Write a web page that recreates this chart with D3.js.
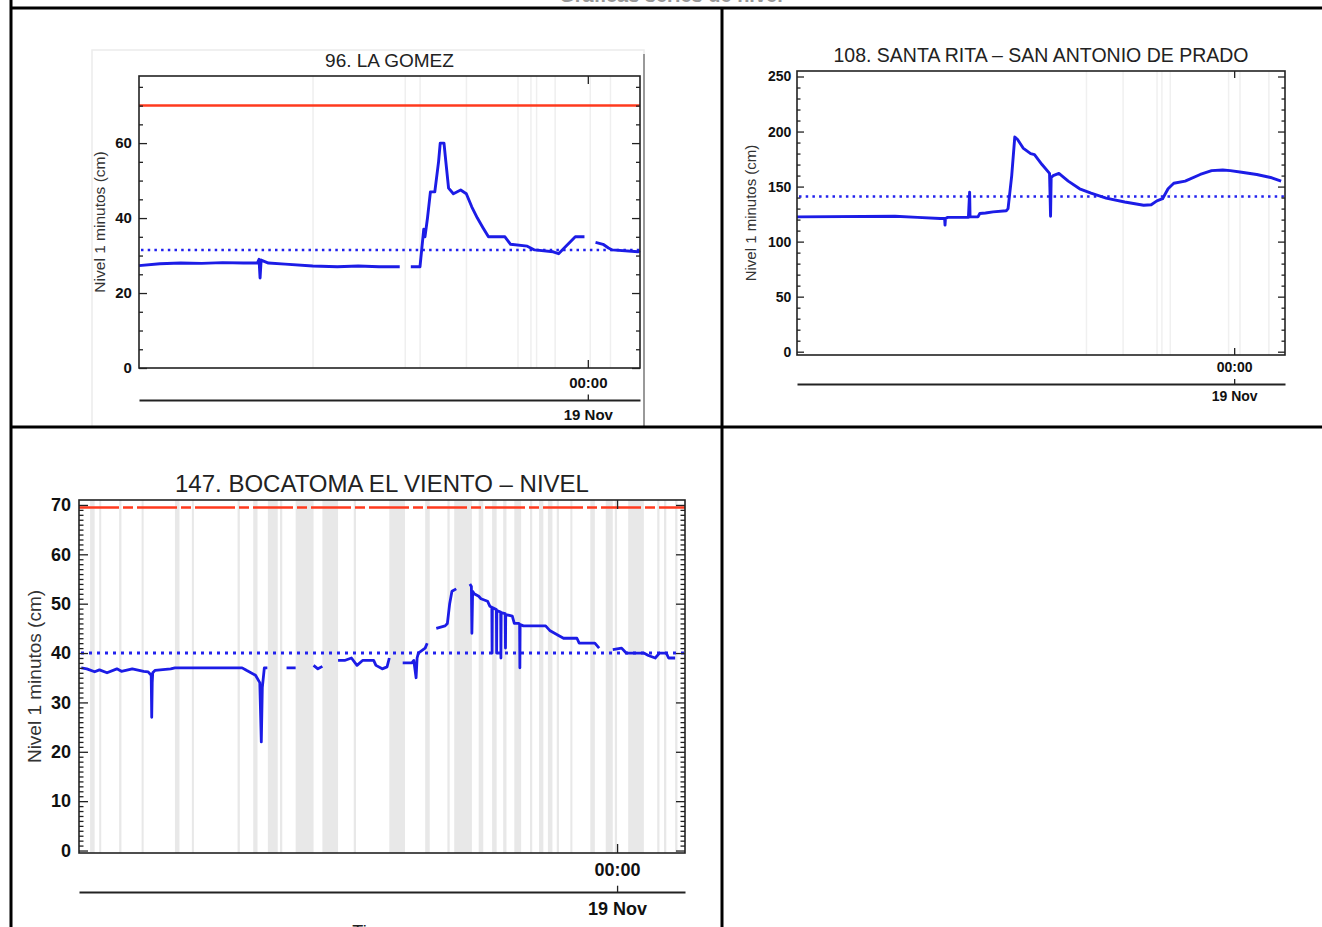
<!DOCTYPE html>
<html>
<head>
<meta charset="utf-8">
<script src="https://cdn.jsdelivr.net/npm/d3@7"></script>
<style>
body { margin: 0; background: #fff; }
svg { display: block; font-family: "Liberation Sans", Arial, sans-serif; }
</style>
</head>
<body>
<svg width="1322" height="927"></svg>
<script>
// time is in hours relative to 19 Nov 00:00
let midnight = Date.UTC(2019, 10, 19);
let T = h => new Date(midnight + h * 3600e3);

// 96. LA GOMEZ
let gomezTime = [-21.5, -20.5, -19.5, -18.5, -17.5, -16.5, -15.83, -15.75, -15.7, -15.65, -15.3, -14.5, -13.18, -12.0, -11.0, -10.0, -9.01, -9.0,
    -8.48, -8.04, -7.95, -7.86, -7.8, -7.68, -7.54, -7.33, -7.15, -7.07, -6.89, -6.8, -6.67, -6.44, -6.09, -5.82, -5.56, -5.29, -5.03,
    -4.76, -3.97, -3.7, -2.9, -2.55, -1.66, -1.4, -1.13, -0.87, -0.6, -0.16, -0.1, 0.37, 0.73, 0.99, 1.17, 2.41, 2.5];
let gomezLevel = [27.3, 27.8, 28.0, 27.9, 28.1, 28.0, 28.0, 29.0, 24.0, 28.8, 28.0, 27.7, 27.2, 27.0, 27.2, 27.0, 27.0, null,
    27.0, 27.0, 32, 37, 35, 40, 47, 47, 55, 60, 60, 55, 48, 46.5, 47.5, 46.5, 43, 40, 37.5,
    35, 35, 33, 32.5, 31.5, 31, 30.5, 32, 33.5, 35, 35, null, 33.5, 33, 32, 31.5, 31, 31.3];
let gomezGaps = [[-13.2, -13.14], [-8.78, -8.72], [-8.07, -8.01], [-5.85, -5.79], [-3.38, -3.32], [-2.76, -2.7], [-2.49, -2.43], [-1.6, -1.54], [0.08, 0.14], [1.05, 1.11]];

// 108. SANTA RITA - SAN ANTONIO DE PRADO
let ritaTime = [-21.5, -16.68, -15.57, -14.46, -14.24, -14.22, -14.2, -14.09, -13.07, -13.01, -12.99, -12.97, -12.6, -12.51, -12.23, -11.86,
    -11.21, -11.12, -10.94, -10.79, -10.66, -10.38, -10.01, -9.82, -9.45, -9.08, -9.03, -9.0, -8.9, -8.62, -8.16, -7.6, -7.04,
    -6.3, -5.38, -4.45, -4.08, -3.8, -3.52, -3.25, -2.97, -2.41, -1.67, -1.11, -0.56, -0.19, 0.37, 1.11, 1.85, 2.31];
let ritaLevel = [122.5, 123, 122, 121, 121, 115, 121, 122, 122, 145, 123, 122.5, 122.5, 125.5, 126, 127,
    128, 130, 160, 195, 193, 185, 180, 179, 170, 162, 123, 158, 160, 162, 155, 148, 144,
    139.5, 136, 133, 133.5, 137, 139, 148, 153, 155, 161, 164.5, 165, 164.5, 163, 161, 158, 155];
let ritaGaps = [[-7.3, -7.24], [-5.5, -5.44], [-3.83, -3.77], [-3.59, -3.53], [-3.18, -3.12], [-0.31, -0.25], [0.25, 0.31], [1.67, 1.73]];

// 147. BOCATOMA EL VIENTO - NIVEL
let vientoTime = [-21.22, -21.0, -20.69, -20.5, -20.2, -19.81, -19.63, -19.2, -18.75, -18.57, -18.45, -18.43, -18.41, -18.39, -18.3, -17.68, -17.51,
    -14.85, -14.68, -14.32, -14.15, -14.09, -14.05, -13.97, -13.85, -13.8, -13.09, -12.73, -12.7, -12.02, -11.85, -11.67, -11.6,
    -11.05, -10.79, -10.52, -10.3, -10.08, -9.9, -9.64, -9.55, -9.3, -9.11, -9.02, -8.9, -8.49, -8.13, -8.05, -7.96, -7.92, -7.87,
    -7.6, -7.52, -7.45, -7.16, -6.81, -6.72, -6.63, -6.54, -6.37, -6.3, -5.83, -5.77, -5.75, -5.72, -5.66, -5.48, -5.39, -5.13,
    -5.04, -4.96, -4.95, -4.94, -4.78, -4.77, -4.76, -4.61, -4.6, -4.59, -4.43, -4.42, -4.41, -4.15, -4.07, -3.89, -3.86, -3.85,
    -3.84, -3.71, -2.83, -2.65, -2.3, -2.12, -1.59, -1.5, -0.88, -0.71, -0.6, -0.17, 0.18, 0.36, 1.06, 1.24, 1.51, 1.68, 1.95,
    2.04, 2.3];
let vientoLevel = [37, 36.8, 36.2, 36.6, 36.0, 36.8, 36.3, 36.8, 36.3, 36.2, 35.5, 27, 34, 36, 36.5, 36.8, 37,
    37, 36.5, 35.5, 34, 22, 33, 37, 37, null, 37, 37, null, 37.5, 36.8, 37.3, null,
    38.5, 38.5, 39, 37.5, 38.5, 38.5, 38.5, 37.5, 36.8, 37.2, 39, null, 38, 38, 38.5, 35, 39, 40,
    41, 42, null, 45, 45.5, 46, 50, 52.5, 53, null, 54, 53.5, 44, 52.5, 52, 51.5, 51, 50.5,
    49.5, 49.3, 40, 49.2, 48.8, 40, 48.6, 48.3, 39, 48.2, 48, 41, 47.8, 47.5, 46, 46, 45.8, 37,
    45.8, 45.5, 45.5, 44.5, 43.5, 43, 43, 42, 42, 41, null, 40.7, 41, 40, 40, 39.5, 39, 40, 40,
    39, 39];
let vientoGaps = [[-20.87, -20.69], [-20.51, -20.43], [-19.72, -19.63], [-18.83, -18.75], [-17.51, -17.33], [-16.84, -16.76],
    [-15.03, -14.94], [-14.41, -14.24], [-13.83, -13.44], [-13.35, -13.26], [-12.73, -12.02], [-11.67, -11.05], [-10.43, -10.34],
    [-9.02, -8.4], [-7.6, -7.42], [-6.72, -6.63], [-6.45, -5.75], [-5.48, -5.3], [-4.95, -4.77], [-4.51, -4.38], [-4.07, -3.8],
    [-3.45, -3.36], [-3.09, -2.92], [-2.74, -2.56], [-2.39, -2.3], [-1.85, -1.77], [-1.06, -0.88], [-0.45, -0.17], [-0.09, 0.0],
    [0.44, 1.06], [1.59, 1.68], [1.86, 1.95], [2.3, 2.39]];

let panels = [
    { title: '96. LA GOMEZ', t: gomezTime, v: gomezLevel, gaps: gomezGaps, gapColor: '#efefef',
      x0: 139, x1: 640, y0: 76, y1: 368, yDom: [0, 77.9], yMax: 60, step: 20, minor: 5,
      tick: 8, fs: 15, titleY: 67, titleFs: 19, labelX: 100, labelFs: 15.5, pad: 9, axis2: 400,
      red: 70, redDash: null, redW: 2.5, ref: 31.5, refDash: '2.5,4.2', refW: 2.6, xDom: [-21.5, 2.5], lineW: 2.9 },
    { title: '108. SANTA RITA \u2013 SAN ANTONIO DE PRADO', t: ritaTime, v: ritaLevel, gaps: ritaGaps, gapColor: '#f0f0f0',
      x0: 797, x1: 1285, y0: 71, y1: 355, yDom: [-3, 255], yMax: 250, step: 50, minor: 10,
      tick: 7, fs: 14, titleY: 62, titleFs: 19.5, labelX: 751, labelFs: 15, pad: 7, axis2: 384,
      red: null, ref: 141, refDash: '2.5,4.2', refW: 2.5, xDom: [-21.5, 2.5], lineW: 2.9 },
    { title: '147. BOCATOMA EL VIENTO \u2013 NIVEL', t: vientoTime, v: vientoLevel, gaps: vientoGaps, gapColor: '#e8e8e8',
      x0: 79, x1: 685, y0: 500, y1: 853, yDom: [-0.5, 71], yMax: 70, step: 10, minor: 1,
      tick: 9, fs: 18, titleY: 492, titleFs: 24, labelX: 34, labelFs: 19, pad: 10, axis2: 892,
      red: 69.5, redDash: '40,4,10,4', redW: 2.5, ref: 40, refDash: '3,5', refW: 3, xDom: [-21.31, 2.69], lineW: 2.8 }
];

let svg = d3.select('svg');
svg.append('rect').attr('width', 1322).attr('height', 927).attr('fill', '#fff');

// page heading, cut by the top edge as in the source picture
svg.append('text').attr('x', 671).attr('y', 2).attr('text-anchor', 'middle')
    .attr('font-size', 20).attr('font-weight', 'bold').attr('fill', '#999')
    .text('Gráficas series de nivel');

// card around the first image
svg.append('rect').attr('x', 92).attr('y', 50).attr('width', 552).attr('height', 377)
    .attr('fill', '#fff').attr('stroke', '#ececec').attr('stroke-width', 1.5);
svg.append('line').attr('x1', 644).attr('x2', 644).attr('y1', 54).attr('y2', 427)
    .attr('stroke', '#999').attr('stroke-width', 2);

function drawPanel(p) {
    let g = svg.append('g');
    let x = d3.scaleUtc().domain(p.xDom.map(T)).range([p.x0, p.x1]);
    let y = d3.scaleLinear().domain(p.yDom).range([p.y1, p.y0]);

    g.selectAll('rect.gap').data(p.gaps).join('rect')
        .attr('x', d => x(T(d[0])))
        .attr('width', d => Math.max(1.5, x(T(d[1])) - x(T(d[0]))))
        .attr('y', p.y0).attr('height', p.y1 - p.y0)
        .attr('fill', p.gapColor);

    if (p.red != null) {
        g.append('line')
            .attr('x1', p.x0).attr('x2', p.x1).attr('y1', y(p.red)).attr('y2', y(p.red))
            .attr('stroke', '#ff3a1e').attr('stroke-width', p.redW)
            .attr('stroke-dasharray', p.redDash);
    }

    g.append('line')
        .attr('x1', p.x0 + 2).attr('x2', p.x1).attr('y1', y(p.ref)).attr('y2', y(p.ref))
        .attr('stroke', '#2222ee').attr('stroke-width', p.refW)
        .attr('stroke-dasharray', p.refDash);

    let pts = p.t.map((t, i) => ({ t: T(t), v: p.v[i] }));
    g.append('path').datum(pts)
        .attr('d', d3.line().defined(d => d.v != null).x(d => x(d.t)).y(d => y(d.v)))
        .attr('fill', 'none').attr('stroke', '#1c1ce6')
        .attr('stroke-width', p.lineW).attr('stroke-linejoin', 'round');

    g.append('rect')
        .attr('x', p.x0).attr('y', p.y0).attr('width', p.x1 - p.x0).attr('height', p.y1 - p.y0)
        .attr('fill', 'none').attr('stroke', '#222').attr('stroke-width', 1.6);

    let majors = d3.range(0, p.yMax + 0.001, p.step);
    let minors = d3.range(0, p.yDom[1], p.minor).filter(v => v % p.step !== 0);
    let style = a => {
        a.select('.domain').remove();
        a.selectAll('line').attr('stroke', '#222').attr('stroke-width', 1.3);
        a.selectAll('text').attr('font-size', p.fs).attr('font-weight', 'bold')
            .attr('fill', '#111').attr('font-family', '"Liberation Sans", Arial, sans-serif');
    };

    g.append('g').attr('transform', `translate(${p.x0},0)`)
        .call(d3.axisLeft(y).tickValues(majors).tickSize(-p.tick).tickPadding(p.pad * 0.8).tickFormat(d3.format('d')))
        .call(style);
    g.append('g').attr('transform', `translate(${p.x0},0)`)
        .call(d3.axisLeft(y).tickValues(minors).tickSize(-p.tick / 2).tickFormat(''))
        .call(style);
    g.append('g').attr('transform', `translate(${p.x1},0)`)
        .call(d3.axisRight(y).tickValues(majors).tickSize(-p.tick).tickFormat(''))
        .call(style);
    g.append('g').attr('transform', `translate(${p.x1},0)`)
        .call(d3.axisRight(y).tickValues(minors).tickSize(-p.tick / 2).tickFormat(''))
        .call(style);

    let days = [T(0)];
    g.append('g').attr('transform', `translate(0,${p.y1})`)
        .call(d3.axisBottom(x).tickValues(days).tickSize(-p.tick).tickPadding(p.pad).tickFormat(d3.utcFormat('%H:%M')))
        .call(style);
    g.append('g').attr('transform', `translate(0,${p.y0})`)
        .call(d3.axisTop(x).tickValues(days).tickSize(-p.tick).tickFormat(''))
        .call(style);

    let a2 = g.append('g').attr('transform', `translate(0,${p.axis2})`)
        .call(d3.axisBottom(x).tickValues(days).tickSize(-p.tick * 0.7).tickSizeOuter(0).tickPadding(p.pad).tickFormat(d3.utcFormat('%-d %b')));
    a2.select('.domain').attr('stroke', '#222').attr('stroke-width', 2);
    a2.selectAll('line').attr('stroke', '#222').attr('stroke-width', 1.3);
    a2.selectAll('text').attr('font-size', p.fs).attr('font-weight', 'bold').attr('fill', '#111')
        .attr('font-family', '"Liberation Sans", Arial, sans-serif');

    g.append('text')
        .attr('x', (p.x0 + p.x1) / 2).attr('y', p.titleY).attr('text-anchor', 'middle')
        .attr('font-size', p.titleFs).attr('fill', '#222')
        .text(p.title);

    g.append('text')
        .attr('transform', `translate(${p.labelX},${(p.y0 + p.y1) / 2}) rotate(-90)`)
        .attr('text-anchor', 'middle').attr('dy', '0.35em')
        .attr('font-size', p.labelFs).attr('fill', '#333')
        .text('Nivel 1 minutos (cm)');
}

panels.forEach(drawPanel);

// x label of the last chart, cut by the page bottom as in the source picture
svg.append('text').attr('x', 382).attr('y', 938).attr('text-anchor', 'middle')
    .attr('font-size', 18).attr('fill', '#222').text('Tiempo');

// table borders
let border = [
    [10, 8, 1322, 8], [11, 0, 11, 927], [722, 8, 722, 927], [10, 427, 1322, 427]
];
svg.selectAll('line.border').data(border).join('line')
    .attr('x1', d => d[0]).attr('y1', d => d[1]).attr('x2', d => d[2]).attr('y2', d => d[3])
    .attr('stroke', '#000').attr('stroke-width', 3);
</script>
</body>
</html>
